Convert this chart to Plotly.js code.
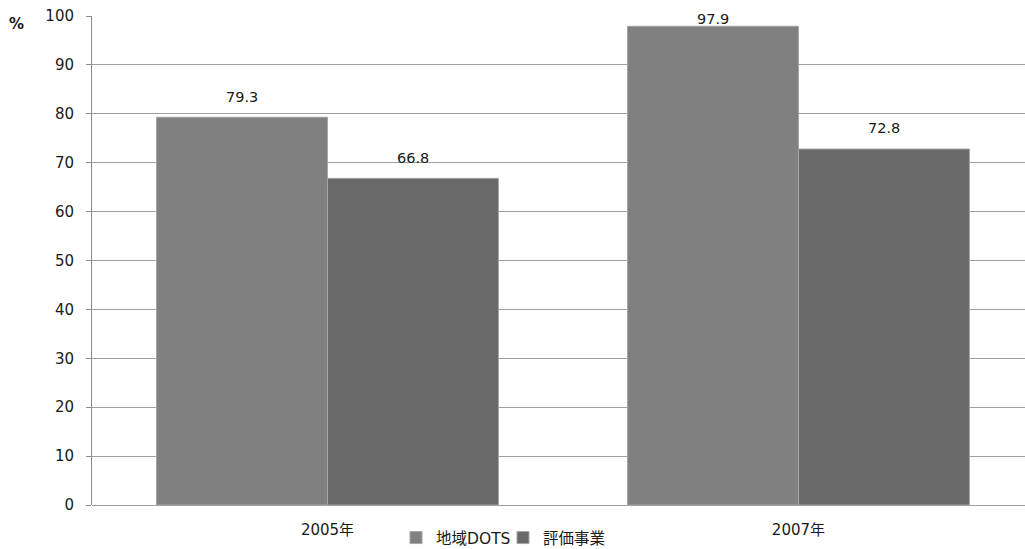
<!DOCTYPE html>
<html>
<head>
<meta charset="utf-8">
<script src="https://cdn.plot.ly/plotly-3.0.1.min.js"></script>
<style>
  html, body { margin: 0; padding: 0; background: #fff; overflow: hidden; }
  #chart { width: 1025px; height: 549px; }
</style>
</head>
<body>
<div id="chart"></div>
<script>
// Years on the category axis
const years = ['2005年', '2007年'];
// Series names
const seriesNames = ['地域DOTS', '評価事業'];
// Percent values for each series
const chiikiDots = [79.3, 97.9];
const hyokaJigyo = [66.8, 72.8];
// Value axis ticks
const yTicks = [0, 10, 20, 30, 40, 50, 60, 70, 80, 90, 100];

const FONT = '"DejaVu Sans", Verdana, "Noto Sans CJK JP", sans-serif';
const TEXT = '#1a1a1a';
const colors = ['#808080', '#696969'];

const traces = [chiikiDots, hyokaJigyo].map((vals, i) => ({
  type: 'bar',
  name: seriesNames[i],
  x: years,
  y: vals,
  marker: { color: colors[i], line: { color: '#a6a6a6', width: 1 } },
  hoverinfo: 'skip'
}));

// Plot box in pixels (used for paper-relative placement)
const PL = 92, PT = 16, PW = 933, PH = 489;

// Value labels above each bar, kept inside the top of the plot
const annotations = [];
[chiikiDots, hyokaJigyo].forEach((vals, i) => {
  vals.forEach((v, j) => {
    annotations.push({
      x: years[j], y: Math.min(v + 4.2, 99.4), xref: 'x', yref: 'y',
      xshift: (i === 0 ? -1 : 1) * 85.5,
      text: v.toFixed(1), showarrow: false,
      font: { family: FONT, size: 14.5, color: TEXT }
    });
  });
});
// Unit mark at the top left of the value axis
annotations.push({
  xref: 'paper', yref: 'paper',
  x: (16 - PL) / PW, y: 1 + (PT - 24) / PH,
  xanchor: 'center', yanchor: 'middle',
  text: '<b>%</b>', showarrow: false,
  font: { family: FONT, size: 15, color: TEXT }
});

const layout = {
  width: 1025, height: 549,
  margin: { l: PL, r: 0, t: PT, b: 44, autoexpand: false },
  paper_bgcolor: '#fff', plot_bgcolor: '#fff',
  barmode: 'group', bargap: 0.274, bargroupgap: 0,
  font: { family: FONT, size: 15, color: TEXT },
  xaxis: {
    type: 'category', range: [-0.5, 1.481],
    showgrid: false, zeroline: false, showline: false,
    ticks: '', ticklabelstandoff: 14,
    tickfont: { family: FONT, size: 15, color: TEXT },
    fixedrange: true
  },
  yaxis: {
    range: [0, 100], tickvals: yTicks, ticktext: yTicks.map(String),
    showgrid: true, gridcolor: '#a0a0a0', gridwidth: 1,
    zeroline: true, zerolinecolor: '#a0a0a0', zerolinewidth: 1,
    showline: true, linecolor: '#8c8c8c', linewidth: 1,
    ticks: 'outside', ticklen: 5, tickcolor: '#8c8c8c',
    ticklabelstandoff: 9,
    tickfont: { family: FONT, size: 15, color: TEXT },
    fixedrange: true
  },
  showlegend: true,
  legend: {
    orientation: 'h', x: (503 - PL) / PW, xanchor: 'center',
    y: -(538 - (PT + PH)) / PH, yanchor: 'middle',
    font: { family: FONT, size: 15.5, color: TEXT },
    itemwidth: 30, entrywidth: 62, entrywidthmode: 'pixels',
    tracegroupgap: 0, itemclick: false
  },
  annotations: annotations
};

Plotly.newPlot('chart', traces, layout, { displayModeBar: false, staticPlot: true });
</script>
</body>
</html>
